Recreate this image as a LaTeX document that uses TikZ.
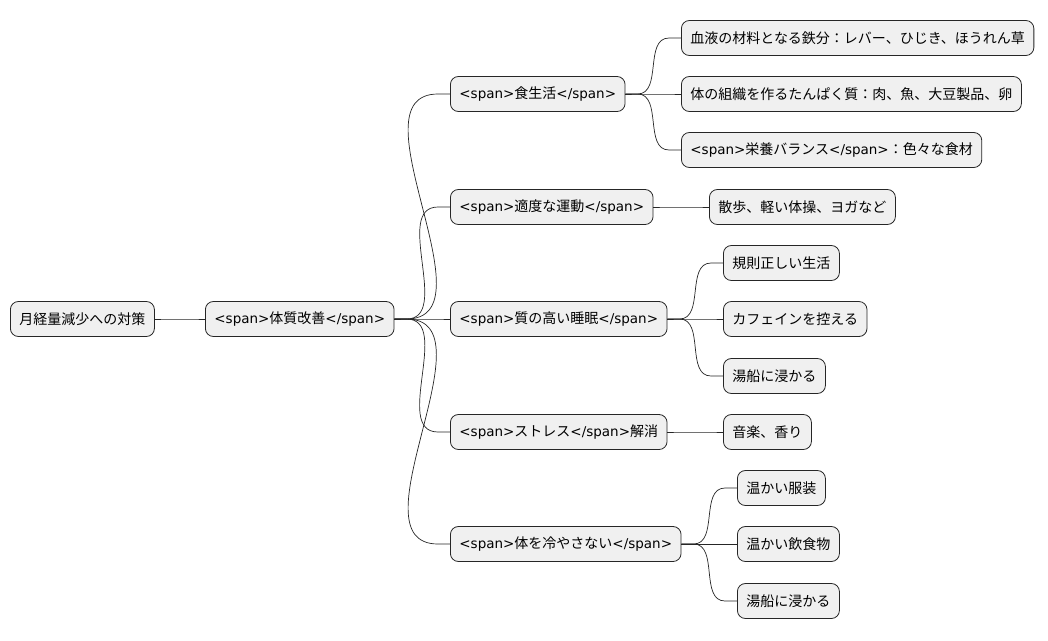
\documentclass[tikz,border=0pt]{standalone}
\usepackage{fontspec}
\setmainfont{Noto Sans CJK JP}
\newfontfamily\lat{DejaVu Sans}
\usetikzlibrary{calc}
\tikzset{
	topic/.style={draw=black!85,fill=black!6,rounded corners=8pt,anchor=west,
		minimum height=35pt,inner xsep=9pt,font=\fontsize{14}{16}\selectfont,line width=0.8pt},
	link/.style={line width=0.7pt,black!85}
}
\newcommand{\spo}{{\lat\fontsize{13.5}{16}\selectfont<span>}}
\newcommand{\spc}{{\lat\fontsize{13.5}{16}\selectfont</span>}}
\newcommand{\branch}[2]{%
	\draw[link] (#1.east) -- ++(12,0) to[out=0,in=180] ($(#2.west)+(-12,0)$) -- (#2.west);}
\begin{document}
\begin{tikzpicture}[x=1pt,y=-1pt]
	\useasboundingbox (0,0) rectangle (1048,640);
	\node[topic] (root) at (10,319) {月経量減少への対策};
	\node[topic] (kaizen) at (205,319) {\spo 体質改善\spc};
	%
	\node[topic] (shoku) at (450,94) {\spo 食生活\spc};
	\node[topic] (undo) at (450,207) {\spo 適度な運動\spc};
	\node[topic] (suimin) at (450,319) {\spo 質の高い睡眠\spc};
	\node[topic] (stress) at (450,432) {\spo ストレス\spc 解消};
	\node[topic] (hie) at (450,544) {\spo 体を冷やさない\spc};
	%
	\node[topic] (tetsu) at (681,38) {血液の材料となる鉄分：レバー、ひじき、ほうれん草};
	\node[topic] (tanpaku) at (681,94) {体の組織を作るたんぱく質：肉、魚、大豆製品、卵};
	\node[topic] (eiyo) at (681,150) {\spo 栄養バランス\spc：色々な食材};
	\node[topic] (sanpo) at (709,207) {散歩、軽い体操、ヨガなど};
	\node[topic] (kisoku) at (723,263) {規則正しい生活};
	\node[topic] (cafe) at (723,319) {カフェインを控える};
	\node[topic] (yubune) at (723,376) {湯船に浸かる};
	\node[topic] (ongaku) at (723,432) {音楽、香り};
	\node[topic] (fuku) at (737,488) {温かい服装};
	\node[topic] (inshoku) at (737,544) {温かい飲食物};
	\node[topic] (yubuneb) at (737,601) {湯船に浸かる};
	%
	\branch{root}{kaizen}
	\foreach \c in {shoku,undo,suimin,stress,hie} {\branch{kaizen}{\c}}
	\foreach \c in {tetsu,tanpaku,eiyo} {\branch{shoku}{\c}}
	\branch{undo}{sanpo}
	\foreach \c in {kisoku,cafe,yubune} {\branch{suimin}{\c}}
	\branch{stress}{ongaku}
	\foreach \c in {fuku,inshoku,yubuneb} {\branch{hie}{\c}}
\end{tikzpicture}
\end{document}
